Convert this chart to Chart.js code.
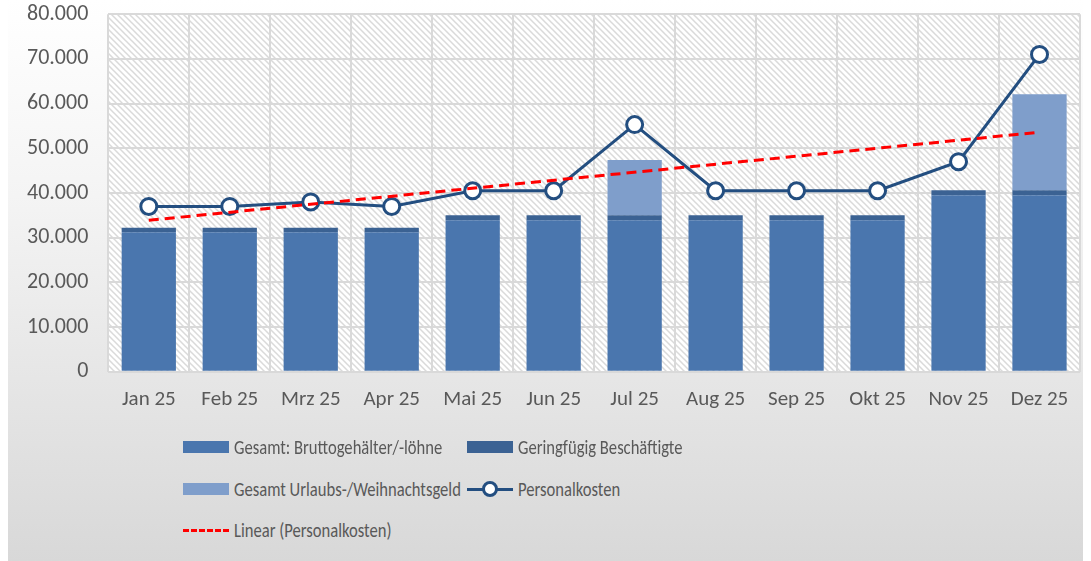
<!DOCTYPE html>
<html>
<head>
<meta charset="utf-8">
<script src="https://cdn.jsdelivr.net/npm/chart.js@4.4.1/dist/chart.umd.min.js"></script>
<style>
  html, body { margin: 0; padding: 0; background: #fff; }
  #wrap { position: relative; width: 1091px; height: 561px; overflow: hidden; font-family: Carlito, Lato, sans-serif; }
  #panel { position: absolute; left: 8px; top: 0; width: 1075px; height: 561px;
           background: linear-gradient(to bottom, #ffffff 0%, #f4f4f4 35%, #d8d8d8 100%); }
  #box { position: absolute; left: 0; top: -19px; width: 1091px; height: 456px; }
  .leg { position: absolute; color: #595959; font-size: 20px; line-height: 24px; white-space: nowrap; }
  .leg i { position: absolute; left: 0; }
  .leg span { position: absolute; left: 51px; top: -12px; transform: scaleX(0.83); transform-origin: left center; }
</style>
</head>
<body>
<div id="wrap">
  <div id="panel"></div>
  <div id="box"><canvas id="chart"></canvas></div>
  <div id="legend"></div>
</div>
<script>
// Daten
var months = ['Jan 25', 'Feb 25', 'Mrz 25', 'Apr 25', 'Mai 25', 'Jun 25', 'Jul 25', 'Aug 25', 'Sep 25', 'Okt 25', 'Nov 25', 'Dez 25'];
var brutto = [31200, 31200, 31200, 31200, 33900, 33900, 33900, 33900, 33900, 33900, 39500, 39500];
var gering = [1000, 1000, 1000, 1000, 1100, 1100, 1100, 1100, 1100, 1100, 1100, 1100];
var urlaub = [0, 0, 0, 0, 0, 0, 12400, 0, 0, 0, 0, 21500];
var personal = [37000, 37000, 38000, 37000, 40500, 40500, 55300, 40500, 40500, 40500, 47000, 71000];
var trend = [33900, null, null, null, null, null, null, null, null, null, null, 53600]; // Endpunkte der Trendlinie
var yTicks = [0, 10000, 20000, 30000, 40000, 50000, 60000, 70000, 80000];

var cBrutto = '#4a76ae';
var cGering = '#3b6293';
var cUrlaub = '#7f9ecb';
var cLine = '#234e80';

function fmt(v) {
    return String(v).replace(/\B(?=(\d{3})+(?!\d))/g, '.');
}

/* Schraffur für den Plotbereich */
function hatch() {
    var s = 6;
    var c = document.createElement('canvas');
    c.width = s; c.height = s;
    var g = c.getContext('2d');
    g.fillStyle = '#ffffff';
    g.fillRect(0, 0, s, s);
    g.strokeStyle = '#dadada';
    g.lineWidth = 1.5;
    g.beginPath();
    g.moveTo(-1, -1); g.lineTo(s + 1, s + 1);
    g.moveTo(-1, s - 1); g.lineTo(1, s + 1);
    g.moveTo(s - 1, -1); g.lineTo(s + 1, 1);
    g.stroke();
    return c;
}

var areaBg = {
    id: 'areaBg',
    beforeDraw: function (chart) {
        var a = chart.chartArea, ctx = chart.ctx;
        ctx.save();
        ctx.fillStyle = ctx.createPattern(hatch(), 'repeat');
        ctx.fillRect(a.left, a.top, a.right - a.left, a.bottom - a.top);
        ctx.restore();
    }
};

var ctx = document.getElementById('chart').getContext('2d');
var chart = new Chart(ctx, {
    type: 'bar',
    data: {
        labels: months,
        datasets: [
            { label: 'Gesamt: Bruttogehälter/-löhne', data: brutto, backgroundColor: cBrutto, stack: 'bars', order: 2 },
            { label: 'Geringfügig Beschäftigte', data: gering, backgroundColor: cGering, stack: 'bars', order: 2 },
            { label: 'Gesamt Urlaubs-/Weihnachtsgeld', data: urlaub, backgroundColor: cUrlaub, stack: 'bars', order: 2 },
            { type: 'line', label: 'Personalkosten', data: personal, stack: 'p', order: 1, clip: false,
              borderColor: cLine, borderWidth: 3, pointRadius: 8, pointBorderWidth: 3,
              pointBackgroundColor: '#ffffff', pointBorderColor: cLine, tension: 0 },
            { type: 'line', label: 'Linear (Personalkosten)', data: trend, stack: 't', order: 0,
              borderColor: '#ff0000', borderWidth: 3, borderDash: [10, 6], pointRadius: 0, spanGaps: true }
        ]
    },
    options: {
        responsive: true,
        maintainAspectRatio: false,
        animation: false,
        datasets: { bar: { categoryPercentage: 1, barPercentage: 0.67 } },
        layout: { autoPadding: false, padding: { top: 1, left: 7, right: 11, bottom: 10 } },
        plugins: { legend: { display: false }, tooltip: { enabled: false } },
        scales: {
            x: {
                stacked: true,
                grid: { color: '#d9d9d9', lineWidth: 2, drawTicks: false },
                border: { display: false },
                ticks: { color: '#595959', font: { family: 'Carlito, Lato, sans-serif', size: 21 }, padding: 15 }
            },
            y: {
                stacked: true,
                min: 0, max: 80000,
                afterBuildTicks: function (axis) { axis.ticks = yTicks.map(function (v) { return { value: v }; }); },
                grid: { color: '#d9d9d9', lineWidth: 2, drawTicks: false },
                border: { display: false },
                ticks: { color: '#595959', font: { family: 'Carlito, Lato, sans-serif', size: 22 }, padding: 20,
                         callback: function (v) { return fmt(v); } }
            }
        }
    },
    plugins: [areaBg]
});

/* Legende (zwei Spalten, wie im Original) */
var legendItems = [
    { text: 'Gesamt: Bruttogehälter/-löhne', x: 183, y: 447, kind: 'box', color: cBrutto },
    { text: 'Geringfügig Beschäftigte', x: 467, y: 447, kind: 'box', color: cGering },
    { text: 'Gesamt Urlaubs-/Weihnachtsgeld', x: 183, y: 489, kind: 'box', color: cUrlaub },
    { text: 'Personalkosten', x: 467, y: 489, kind: 'line', color: cLine },
    { text: 'Linear (Personalkosten)', x: 183, y: 530, kind: 'dash', color: '#ff0000' }
];
var legend = document.getElementById('legend');
legendItems.forEach(function (it) {
    var d = document.createElement('div');
    d.className = 'leg';
    d.style.left = it.x + 'px';
    d.style.top = it.y + 'px';
    var m = '';
    if (it.kind === 'box') {
        m = '<i style="top:-6px;width:46px;height:12px;background:' + it.color + '"></i>';
    } else if (it.kind === 'line') {
        m = '<i style="top:-1.5px;width:46px;height:3px;background:' + it.color + '"></i>' +
            '<i style="left:15px;top:-8px;width:10px;height:10px;border:3px solid ' + it.color + ';border-radius:50%;background:#fff"></i>';
    } else {
        m = '<i style="top:-1.5px;width:46px;height:0;border-top:3px dashed ' + it.color + '"></i>';
    }
    d.innerHTML = m + '<span>' + it.text + '</span>';
    legend.appendChild(d);
});
</script>
</body>
</html>
